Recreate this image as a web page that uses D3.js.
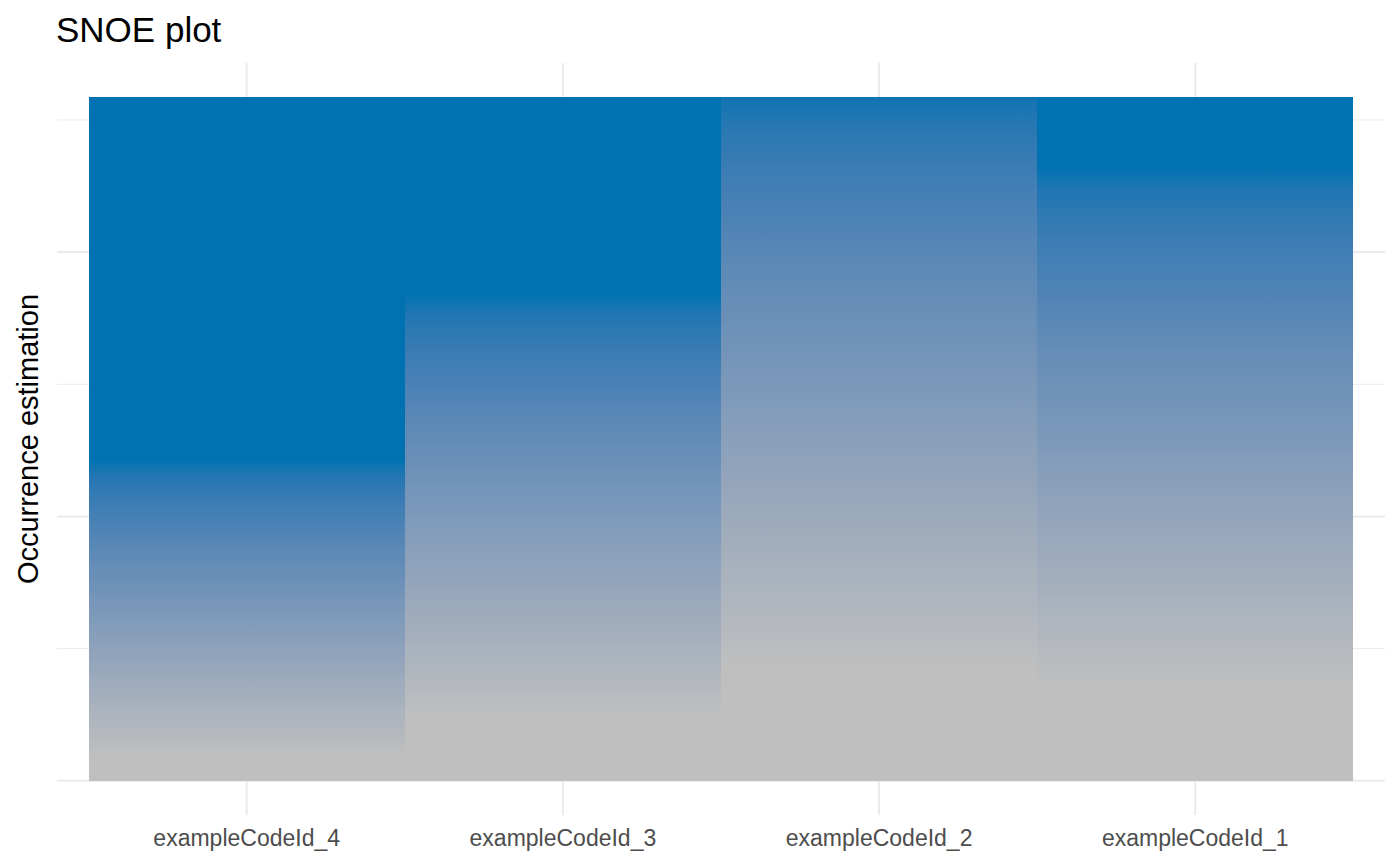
<!DOCTYPE html>
<html>
<head>
<meta charset="utf-8">
<script src="https://cdn.jsdelivr.net/npm/d3@7"></script>
<style>
  html, body { margin: 0; padding: 0; background: #ffffff; }
  svg { display: block; }
  text { font-family: "Liberation Sans", Arial, Helvetica, sans-serif; }
</style>
</head>
<body>
<svg id="chart" width="1400" height="866"></svg>
<script>
// ---- data ----
const codes = ["exampleCodeId_4", "exampleCodeId_3", "exampleCodeId_2", "exampleCodeId_1"];
// occurrence value below which the column is fully grey
const greyUntil = [0.0091, 0.0231, 0.0420, 0.0352];
// occurrence value from which the column is fully blue
const blueFrom = [0.1214, 0.1845, 0.2630, 0.2329];
// top of every column
const yMax = 0.2586;
const yMajorTicks = [0, 0.1, 0.2];
const yMinorTicks = [0.05, 0.15, 0.25];
const title = "SNOE plot";
const yTitle = "Occurrence estimation";

// ---- layout ----
const svg = d3.select("#chart");
const panel = { left: 57, right: 1385, top: 63, bottom: 815 };
const lowColor = "#BFBFBF", highColor = "#0072B2";

const x = d3.scaleBand().domain(codes)
  .range([panel.left, panel.right]).paddingInner(0).paddingOuter(0.1);

const expand = yMax * 0.05;
const y = d3.scaleLinear().domain([-expand, yMax + expand])
  .range([panel.bottom, panel.top]);

const fillColor = d3.scaleLinear().domain([0, 1]).range([lowColor, highColor])
  .interpolate(d3.interpolateLab).clamp(true);

// gridlines
const grid = svg.append("g");
grid.selectAll(".minor").data(yMinorTicks).join("line")
  .attr("x1", panel.left).attr("x2", panel.right)
  .attr("y1", d => y(d)).attr("y2", d => y(d))
  .attr("stroke", "#EBEBEB").attr("stroke-width", 1);
grid.selectAll(".major").data(yMajorTicks).join("line")
  .attr("x1", panel.left).attr("x2", panel.right)
  .attr("y1", d => y(d)).attr("y2", d => y(d))
  .attr("stroke", "#EBEBEB").attr("stroke-width", 2);
grid.selectAll(".vmajor").data(codes).join("line")
  .attr("x1", d => x(d) + x.bandwidth() / 2).attr("x2", d => x(d) + x.bandwidth() / 2)
  .attr("y1", panel.top).attr("y2", panel.bottom)
  .attr("stroke", "#EBEBEB").attr("stroke-width", 2);

// gradients for each column
const defs = svg.append("defs");
codes.forEach((c, i) => {
  const g = defs.append("linearGradient")
    .attr("id", "grad" + i)
    .attr("gradientUnits", "userSpaceOnUse")
    .attr("x1", 0).attr("x2", 0)
    .attr("y1", y(0)).attr("y2", y(yMax));
  const level = v => (v - greyUntil[i]) / (blueFrom[i] - greyUntil[i]);
  const off = v => (y(0) - y(v)) / (y(0) - y(yMax));
  const stops = [[0, 0]];
  const n = 24;
  for (let k = 0; k <= n; k++) {
    const v = greyUntil[i] + (blueFrom[i] - greyUntil[i]) * k / n;
    if (v <= yMax) stops.push([off(v), level(v)]);
  }
  stops.push([1, level(yMax)]);
  g.selectAll("stop").data(stops).join("stop")
    .attr("offset", d => Math.max(0, Math.min(1, d[0])))
    .attr("stop-color", d => fillColor(d[1]));
});

// columns
svg.append("g").selectAll("rect").data(codes).join("rect")
  .attr("x", d => x(d))
  .attr("width", x.bandwidth())
  .attr("y", y(yMax))
  .attr("height", y(0) - y(yMax))
  .attr("fill", (d, i) => `url(#grad${i})`)
  .attr("shape-rendering", "crispEdges");

// x axis labels
svg.append("g").selectAll("text").data(codes).join("text")
  .attr("x", d => x(d) + x.bandwidth() / 2)
  .attr("y", 846)
  .attr("text-anchor", "middle")
  .attr("font-size", 23)
  .attr("fill", "#4D4D4D")
  .text(d => d);

// y axis title
svg.append("text")
  .attr("transform", `translate(38,${(panel.top + panel.bottom) / 2}) rotate(-90)`)
  .attr("text-anchor", "middle")
  .attr("font-size", 29)
  .attr("fill", "#000")
  .text(yTitle);

// title
svg.append("text")
  .attr("x", 56).attr("y", 41.5)
  .attr("font-size", 35)
  .attr("fill", "#000")
  .text(title);
</script>
</body>
</html>
